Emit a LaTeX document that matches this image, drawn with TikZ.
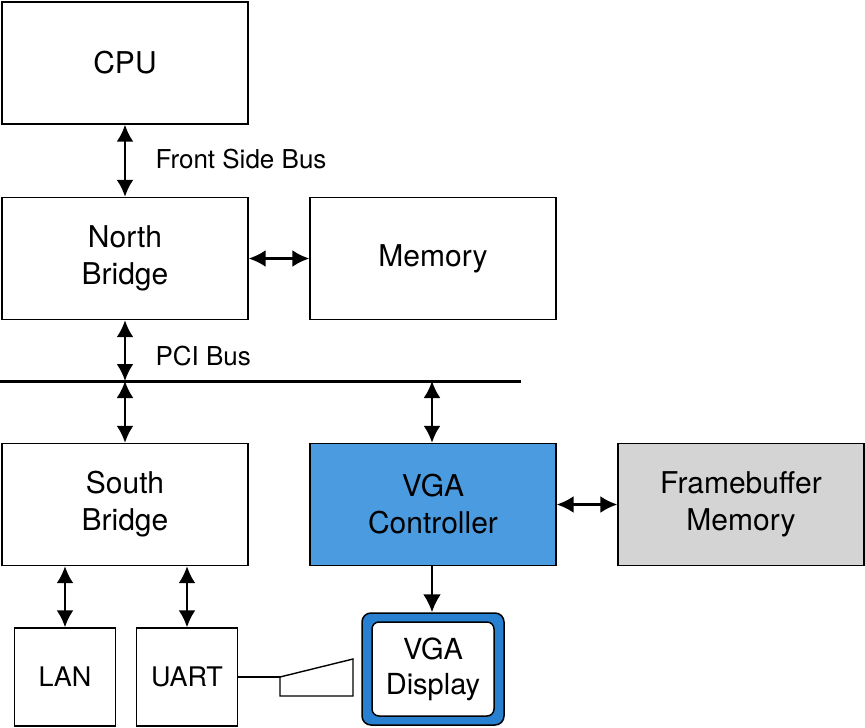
\documentclass[tikz,border=0pt]{standalone}
\usepackage{fontspec}
\setmainfont{TeX Gyre Heros}
\newfontfamily\cjk{Noto Sans CJK SC}
\usetikzlibrary{arrows.meta}
\begin{document}
\begin{tikzpicture}[x=1pt,y=-1pt,
  box/.style={draw,line width=1.4pt,minimum width=246pt,minimum height=122pt,inner sep=0pt,align=center,font=\fontsize{30}{37}\selectfont},
  sbox/.style={draw,line width=1.4pt,minimum width=101pt,minimum height=98pt,inner sep=0pt,align=center,font=\fontsize{27}{32}\selectfont},
  lbl/.style={font=\fontsize{26}{30}\selectfont,anchor=west},
  bi/.style={line width=2.4pt,{Latex[length=17pt,width=17pt]}-{Latex[length=17pt,width=17pt]}},
  uni/.style={line width=2.4pt,-{Latex[length=18pt,width=18pt]}}]
\useasboundingbox (0,0) rectangle (865,728);
\node[box] (cpu) at (125,63) {CPU};
\node[box] (nb) at (125,258.5) {North\\Bridge};
\node[box] (mem) at (433,258.5) {Memory};
\node[box] (sb) at (125,504.5) {South\\Bridge};
\node[box,fill={rgb,255:red,74;green,155;blue,224}] (vga) at (433,504.5) {VGA\\Controller};
\node[box,fill={rgb,255:red,212;green,212;blue,212}] (fb) at (741,504.5) {Framebuffer\\Memory};
\node[sbox] (lan) at (65,677) {LAN};
\node[sbox] (uart) at (187,677) {UART};
\coordinate (busl) at (0,381);
\coordinate (busr) at (521,381);
\draw[line width=3pt] (busl) -- (busr);
\coordinate (b1) at (125,381);
\coordinate (b2) at (432,381);
\draw[bi] (cpu) -- (nb);
\node[lbl] (fsb) at (152,159) {Front Side Bus};
\draw[bi] (nb) -- (mem);
\draw[bi] (nb.south) -- (b1);
\node[lbl] (pci) at (152,356) {PCI Bus};
\draw[bi] (b1) -- (sb.north);
\draw[bi] (b2) -- (b2|-vga.north);
\draw[bi] (vga) -- (fb);
\draw[bi] (sb.south -| lan) -- (lan);
\draw[bi] (sb.south -| uart) -- (uart);
% display
\node[draw=black,line width=1.5pt,fill={rgb,255:red,40;green,128;blue,208},rounded corners=9pt,minimum width=142pt,minimum height=112pt] (dispo) at (433,669) {};
\node[draw=black,line width=1.5pt,fill=white,rounded corners=7pt,minimum width=122pt,minimum height=94pt,align=center,font=\fontsize{29}{35}\selectfont] (disp) at (433,669) {VGA\\Display};
\coordinate (vs) at (432,565);
\draw[uni] (vs) -- (vs|-dispo.north);
\coordinate (k1) at (280,677);
\draw[line width=1.4pt] (uart.east |- k1) -- (k1);
\draw[line width=1.4pt] (k1) -- (280,696) -- (353,696) -- (353,659) -- cycle;
\node[font=\cjk\fontsize{21}{24}\selectfont,text=white,anchor=west] (wm) at (590,690) {知乎 @吴建明wujianming};
\end{tikzpicture}
\end{document}
